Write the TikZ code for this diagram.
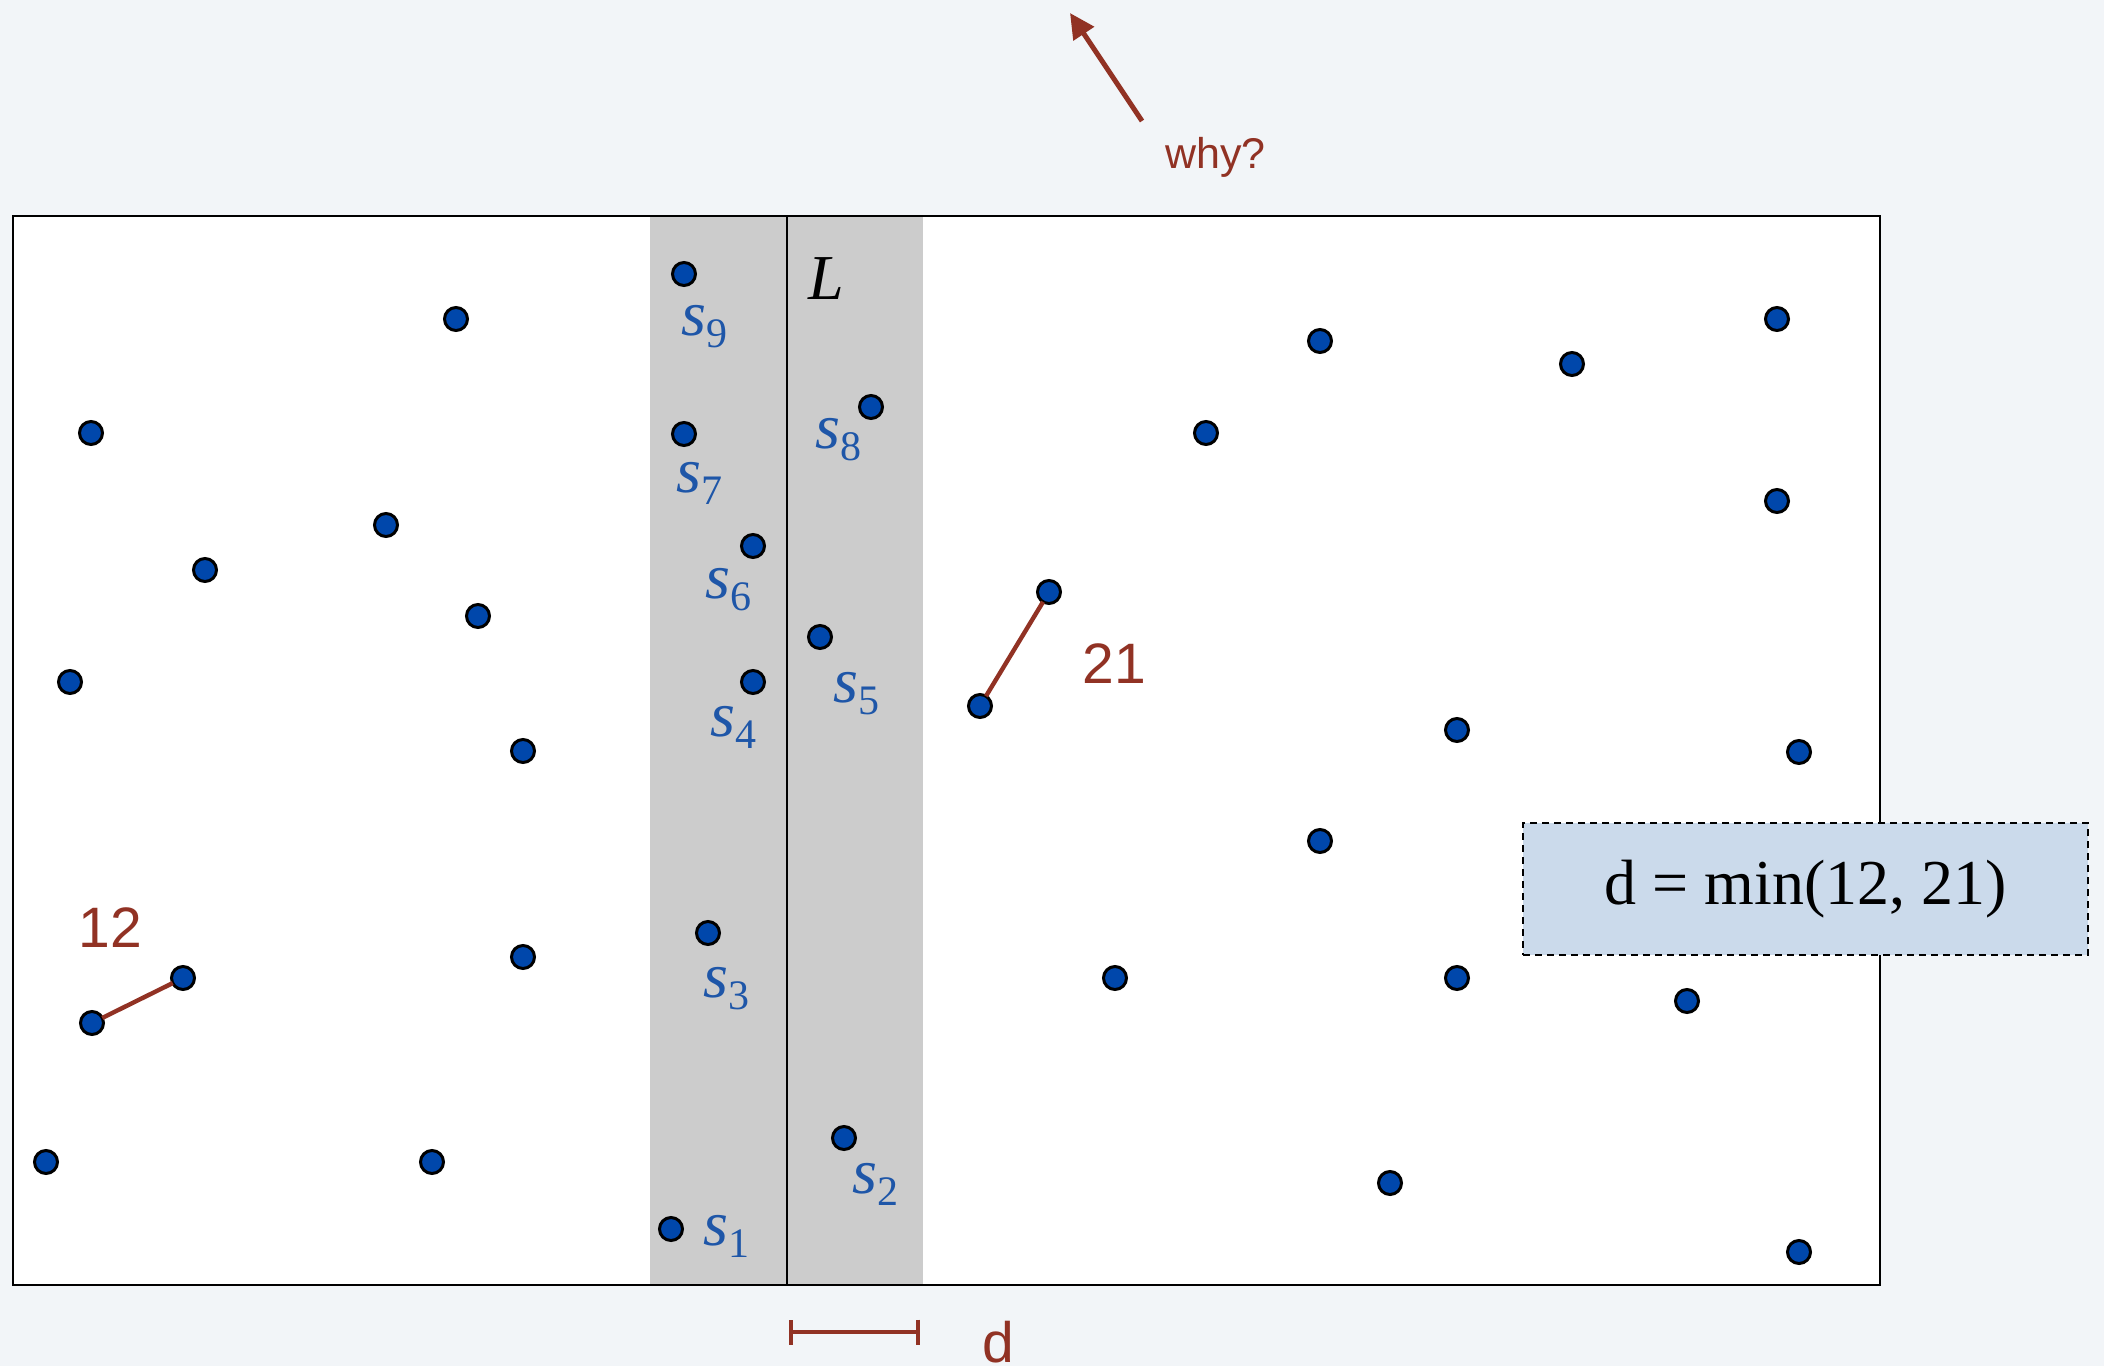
\documentclass[tikz,border=0pt]{standalone}
\usepackage{fontspec}
\setmainfont{Liberation Serif}
\setsansfont{Liberation Sans}
\usetikzlibrary{arrows.meta}
\definecolor{bgc}{HTML}{F2F5F8}
\definecolor{stripc}{HTML}{CCCCCC}
\definecolor{dotc}{HTML}{0047AB}
\definecolor{redc}{HTML}{913224}
\definecolor{labc}{HTML}{1E56A8}
\definecolor{boxc}{HTML}{CBDAEB}
\newcommand\slab[1]{\textit{s}\raisebox{-6pt}{\fontsize{21}{21}\selectfont #1}}
\begin{document}
\begin{tikzpicture}[x=0.5pt,y=-0.5pt,
  pt/.style={circle,draw=black,line width=1.5pt,fill=dotc,minimum size=11.5pt,inner sep=0pt,outer sep=0pt},
  slabel/.style={anchor=base west,inner sep=0pt,text=labc,font=\fontsize{32}{32}\selectfont},
  redlab/.style={anchor=base west,inner sep=0pt,text=redc,font=\sffamily\fontsize{28.5}{28.5}\selectfont},
  redline/.style={draw=redc,line width=2.2pt},
  framebox/.style={draw=black,line width=1.4pt},
  resultbox/.style={draw=black,fill=boxc,line width=1.2pt,dash pattern=on 3.5pt off 2.5pt,
    minimum width=282.5pt,minimum height=66pt,inner sep=0pt,font=\fontsize{32}{32}\selectfont}
]
\useasboundingbox (0,0) rectangle (2104,1366);
\fill[bgc] (0,0) rectangle (2104,1366);
% frame and strip
\fill[white] (13,216) rectangle (1880,1285);
\fill[stripc] (650,216) rectangle (923,1285);
\draw[framebox] (13,216) rectangle (1880,1285);
\coordinate (Ltop) at (787,216);
\coordinate (Lbot) at (787,1285);
\draw[black,line width=1.2pt] (Ltop) -- (Lbot);
\node[anchor=base west,inner sep=0pt,font=\fontsize{32}{32}\selectfont] (Llab) at (808,299) {\textit{L}};

% why arrow
\coordinate (whyfrom) at (1142,121);
\coordinate (whyto) at (1070,13);
\draw[redc,line width=2.5pt,-{Triangle[length=12.5pt,width=12pt]}] (whyfrom) -- (whyto);
\node[anchor=base west,inner sep=0pt,text=redc,font=\sffamily\fontsize{21.5}{21.5}\selectfont] (why) at (1165,168) {why?};

% left points
\node[pt] (l1) at (456,319) {};
\node[pt] (l2) at (91,433) {};
\node[pt] (l3) at (386,525) {};
\node[pt] (l4) at (205,570) {};
\node[pt] (l5) at (478,616) {};
\node[pt] (l6) at (70,682) {};
\node[pt] (l7) at (523,751) {};
\node[pt] (l8) at (523,957) {};
\node[pt] (a2) at (183,978) {};
\node[pt] (a1) at (92,1023) {};
\node[pt] (l9) at (46,1162) {};
\node[pt] (l10) at (432,1162) {};

% right points
\node[pt] (r1) at (1320,341) {};
\node[pt] (r2) at (1572,364) {};
\node[pt] (r3) at (1777,319) {};
\node[pt] (r4) at (1206,433) {};
\node[pt] (r5) at (1777,501) {};
\node[pt] (b2) at (1049,592) {};
\node[pt] (b1) at (980,706) {};
\node[pt] (r6) at (1457,730) {};
\node[pt] (r7) at (1799,752) {};
\node[pt] (r8) at (1320,841) {};
\node[pt] (r9) at (1115,978) {};
\node[pt] (r10) at (1457,978) {};
\node[pt] (r11) at (1687,1001) {};
\node[pt] (r12) at (1390,1183) {};
\node[pt] (r13) at (1799,1252) {};

% closest pairs
\draw[redline] (a1) -- (a2);
\draw[redline] (b1) -- (b2);
\node[redlab] (lab12) at (78,947) {12};
\node[redlab] (lab21) at (1082,683) {21};

% strip points
\node[pt] (s9) at (684,274) {};
\node[pt] (s7) at (684,434) {};
\node[pt] (s8) at (871,407) {};
\node[pt] (s6) at (753,546) {};
\node[pt] (s5) at (820,637) {};
\node[pt] (s4) at (753,682) {};
\node[pt] (s3) at (708,933) {};
\node[pt] (s2) at (844,1138) {};
\node[pt] (s1) at (671,1229) {};
\node[slabel] (ls9) at (681,335) {\slab{9}};
\node[slabel] (ls7) at (676,492) {\slab{7}};
\node[slabel] (ls8) at (815,448) {\slab{8}};
\node[slabel] (ls6) at (705,598) {\slab{6}};
\node[slabel] (ls5) at (833,702) {\slab{5}};
\node[slabel] (ls4) at (710,736) {\slab{4}};
\node[slabel] (ls3) at (703,997) {\slab{3}};
\node[slabel] (ls2) at (852,1193) {\slab{2}};
\node[slabel] (ls1) at (703,1245) {\slab{1}};

% d measure
\coordinate (dl) at (789,1332);
\coordinate (dr) at (920,1332);
\draw[redc,line width=2pt,{Bar[width=12.5pt]}-{Bar[width=12.5pt]}] (dl) -- (dr);
\node[redlab] (dlab) at (982,1362) {d};

% result box
\node[resultbox] (res) at (1805.5,889) {d = min(12, 21)};
\end{tikzpicture}
\end{document}
